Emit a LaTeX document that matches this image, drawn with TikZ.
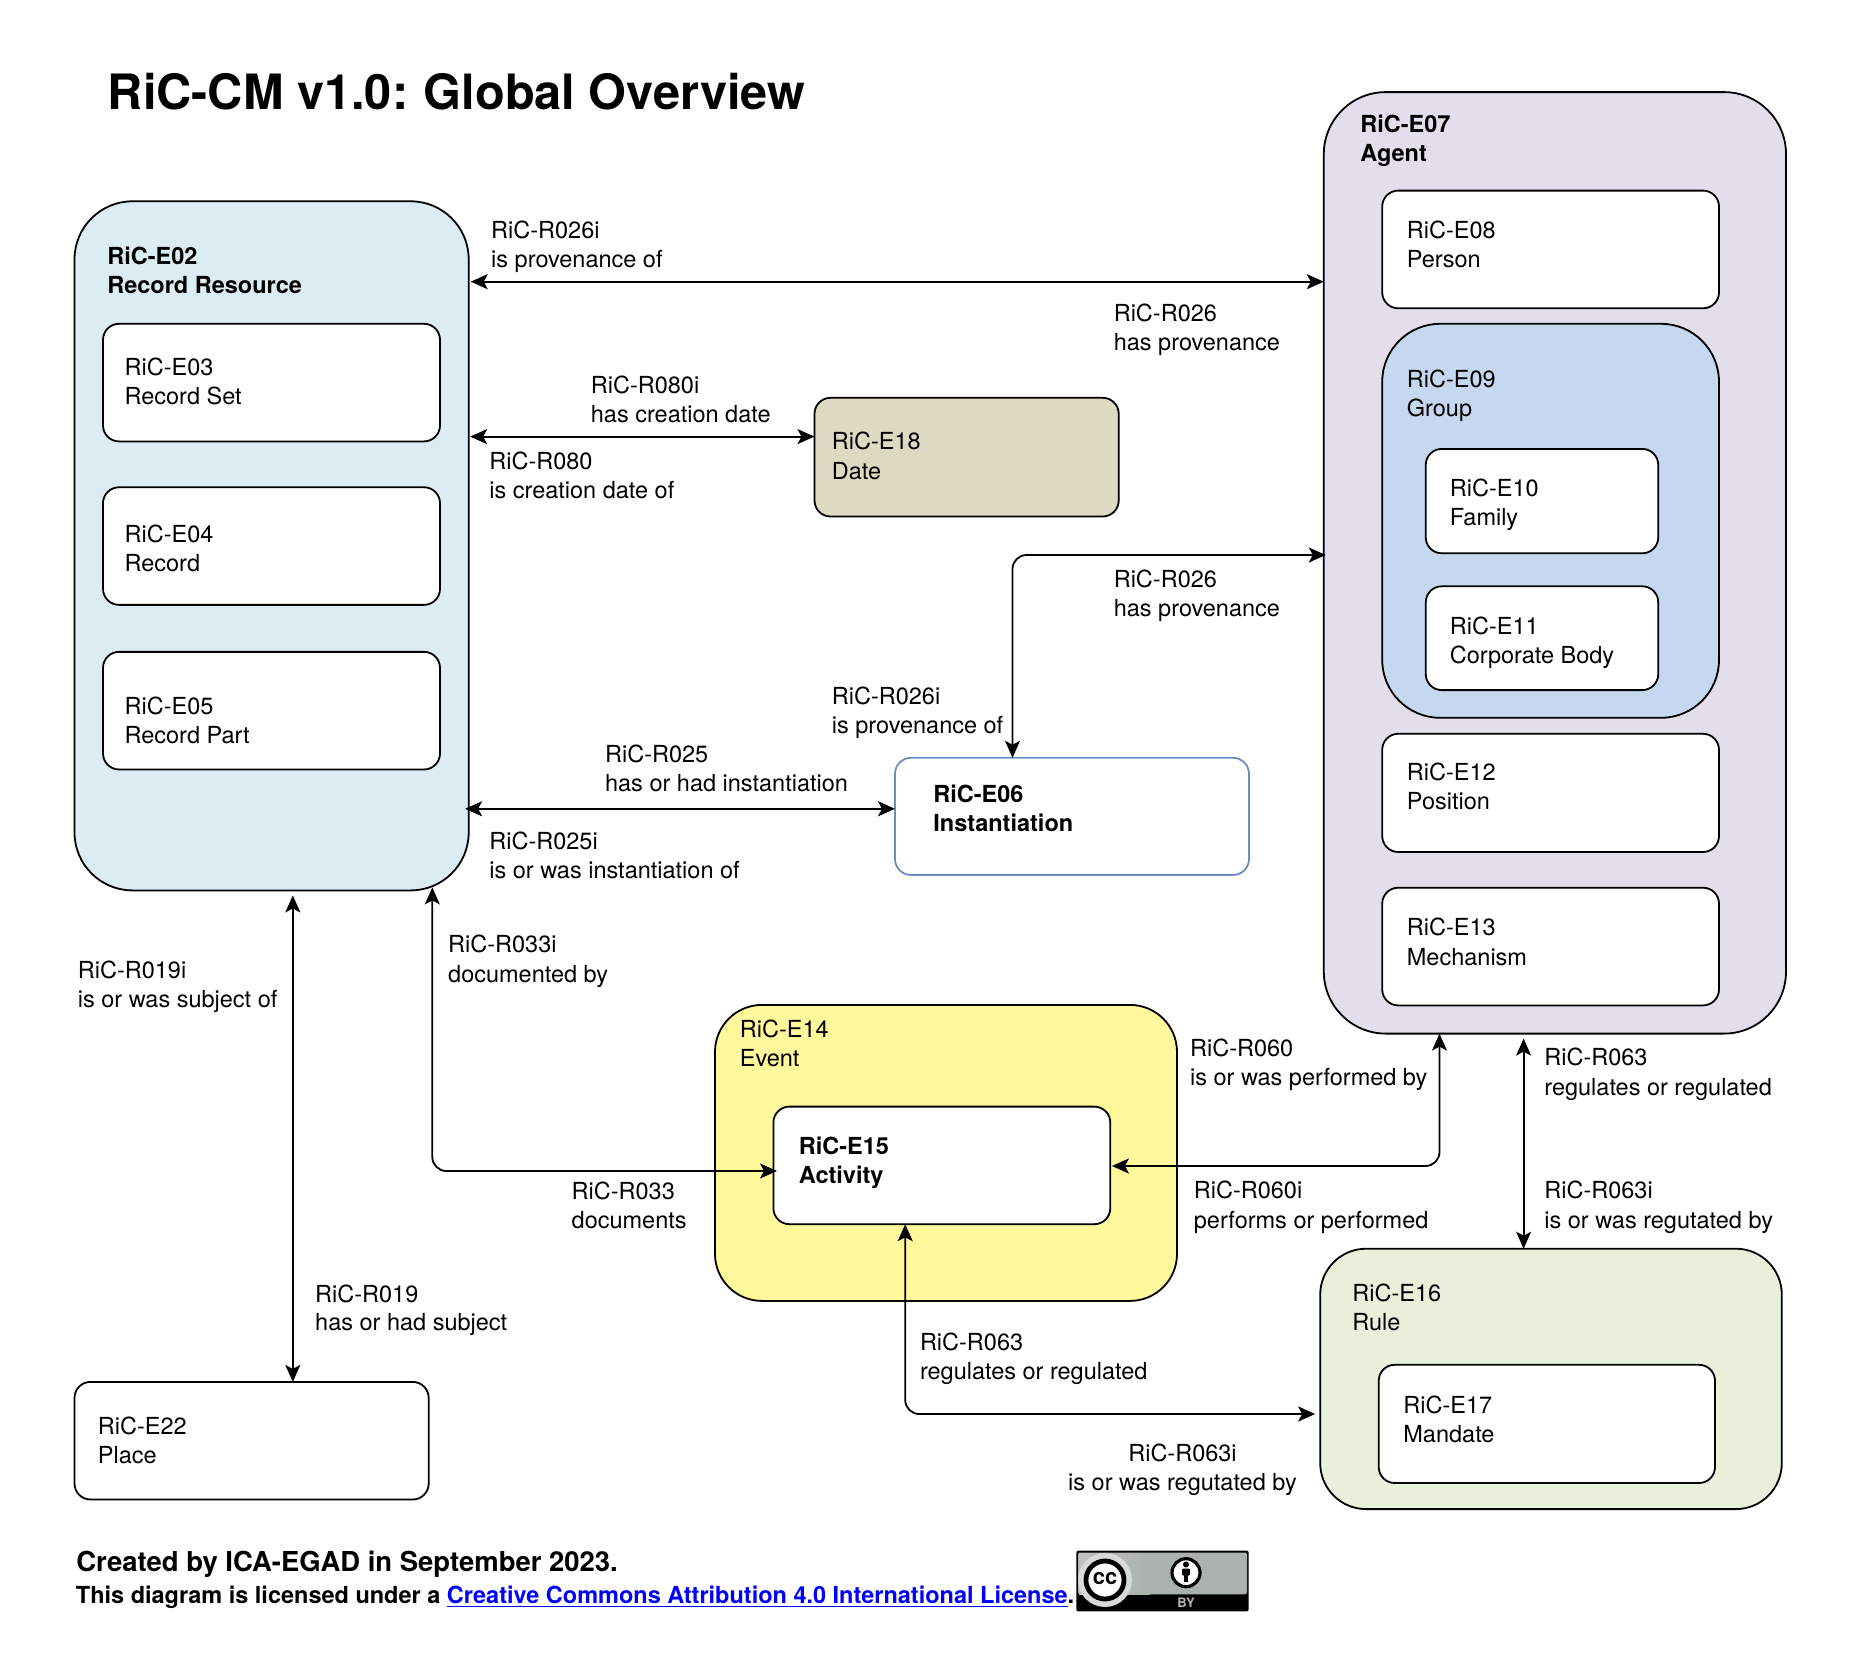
\documentclass[tikz,border=0pt]{standalone}
\usepackage{fontspec}
\setmainfont{TeX Gyre Heros}
\usetikzlibrary{arrows.meta}

\begin{document}
\begin{tikzpicture}[x=0.5pt,y=-0.5pt]
    \tikzset{boxsize/.style 2 args = {minimum width = #1*0.5pt,
        minimum height = #2*0.5pt},
      entity/.style = {draw, line width = 0.9pt, fill = white,
        rounded corners = 8pt, inner sep = 0pt, outer sep = 0pt},
      bigentity/.style = {entity, rounded corners = 29pt},
      caption/.style = {align = left, anchor = west, inner sep = 0pt,
        font = \fontsize{11.75}{14.65}\selectfont},
      boldcaption/.style = {caption, font = \fontsize{11.75}{14.65}\selectfont\bfseries},
      rel/.style = {<->, >={Stealth[length=8.5pt, width=7.5pt, inset=2pt]},
        line width = 0.9pt, rounded corners = 7pt}}

    \useasboundingbox (0,0) rectangle (1870,1670);

    \node[anchor=west, inner sep=0pt, font=\fontsize{24.35}{28}\selectfont\bfseries] (title)
        at (107.5,91.6) {RiC-CM v1.0:\kern-1.2pt{} Global Overview};

    % Draw the record resource.
    \node[bigentity, boxsize={394.2}{689.1}, fill={rgb,255:red,219;green,236;blue,242}] (E02) at (271.6,545.85) {};
    \node[entity, boxsize={337}{117.6}] (E03) at (271.5,382.6) {};
    \node[entity, boxsize={337}{117.6}] (E04) at (271.5,546.05) {};
    \node[entity, boxsize={337}{117.6}] (E05) at (271.5,710.65) {};
    \node[boldcaption] (tE02) at (107,270.2) {RiC-E02\\Record Resource};
    \node[caption] (tE03) at (124.2,381.5) {RiC-E03\\Record Set};
    \node[caption] (tE04) at (124.2,548.2) {RiC-E04\\Record};
    \node[caption] (tE05) at (124.2,720.5) {RiC-E05\\Record Part};

    % Draw the agent.
    \node[bigentity, rounded corners=31pt, boxsize={462.2}{941.5}, fill={rgb,255:red,227;green,222;blue,235}] (E07) at (1554.9,562.85) {};
    \node[entity, boxsize={336.8}{117.7}] (E08) at (1550.6,249.45) {};
    \node[bigentity, boxsize={336.8}{394}, fill={rgb,255:red,198;green,216;blue,239}] (E09) at (1550.6,520.8) {};
    \node[entity, boxsize={232.5}{104.4}] (E10) at (1542,501.1) {};
    \node[entity, boxsize={232.5}{103.8}] (E11) at (1542,638.2) {};
    \node[entity, boxsize={336.8}{118.2}] (E12) at (1550.6,792.9) {};
    \node[entity, boxsize={336.8}{117.7}] (E13) at (1550.6,946.55) {};
    \node[boldcaption] (tE07) at (1360,141) {RiC-E07\\Agent};
    \node[caption] (tE08) at (1406.5,244.7) {RiC-E08\\Person};
    \node[caption] (tE09) at (1406.5,395.6) {RiC-E09\\Group};
    \node[caption] (tE10) at (1449.5,504.8) {RiC-E10\\Family};
    \node[caption] (tE11) at (1449.5,642.7) {RiC-E11\\Corporate Body};
    \node[caption] (tE12) at (1406.5,786.7) {RiC-E12\\Position};
    \node[caption] (tE13) at (1406.5,941.8) {RiC-E13\\Mechanism};

    % Draw the other entities.
    \node[entity, boxsize={304.2}{118.7}, fill={rgb,255:red,221;green,217;blue,195}] (E18) at (966.6,457.15) {};
    \node[entity, boxsize={354}{117.2}, draw={rgb,255:red,108;green,142;blue,191}] (E06) at (1072,816.4) {};
    \node[bigentity, rounded corners=23.5pt, boxsize={462}{296}, fill={rgb,255:red,255;green,249;blue,155}] (E14) at (946,1152.9) {};
    \node[entity, boxsize={336.9}{117.6}] (E15) at (941.85,1165.4) {};
    \node[bigentity, rounded corners=23pt, boxsize={461.6}{260.4}, fill={rgb,255:red,232;green,240;blue,220}] (E16) at (1551,1378.9) {};
    \node[entity, boxsize={336.3}{118.2}] (E17) at (1546.85,1423.9) {};
    \node[entity, boxsize={354.2}{117.6}] (E22) at (251.6,1440.7) {};
    \node[caption] (tE18) at (831.5,455.8) {RiC-E18\\Date};
    \node[boldcaption] (tE06) at (933,808.5) {RiC-E06\\Instantiation};
    \node[caption] (tE14) at (739.5,1043.5) {RiC-E14\\Event};
    \node[boldcaption] (tE15) at (798.5,1163) {RiC-E15\\Activity};
    \node[caption] (tE16) at (1352,1307.6) {RiC-E16\\Rule};
    \node[caption] (tE17) at (1403,1419.4) {RiC-E17\\Mandate};
    \node[caption] (tE22) at (97.5,1440.7) {RiC-E22\\Place};

    % Draw the relations.
    \draw[rel] ([xshift=1pt]E02.east |- 0,281.7) -- (E07.west |- 0,281.7);
    \draw[rel] ([xshift=0.7pt]E02.east |- 0,436.6) -- (E18.west |- 0,436.6);
    \draw[rel] (E06.north -| 1012.5,0) |- ([xshift=1pt]E07.west |- 0,555);
    \draw[rel] ([xshift=-1.8pt]E02.east |- 0,808.8) -- (E06.west |- 0,808.8);
    \draw[rel] ([yshift=-2.5pt]E02.south -| 292.8,0) -- (E22.north -| 292.8,0);
    \draw[rel] ([yshift=1.5pt]E02.south -| 432.3,0) |- ([xshift=1.8pt]E15.west |- 0,1171);
    \draw[rel] ([xshift=0.8pt]E15.east |- 0,1166) -| (E07.south -| 1439.5,0);
    \draw[rel] ([yshift=-2.5pt]E07.south -| 1523.6,0) -- (E16.north -| 1523.6,0);
    \draw[rel] (E15.south -| 905.2,0) |- ([xshift=-2.5pt]E16.west |- 0,1414);

    % Draw the relation labels.
    \node[caption] (R026ia) at (490.8,247.1) {RiC-R026i\\is provenance of};
    \node[caption] (R026a) at (1113.4,329.6) {RiC-R026\\has provenance};
    \node[caption] (R080i) at (590.5,399.5) {RiC-R080i\\has creation date};
    \node[caption] (R080) at (489,475.3) {RiC-R080\\is creation date of};
    \node[caption] (R026b) at (1113.4,595.6) {RiC-R026\\has provenance};
    \node[caption] (R026ib) at (831.5,713) {RiC-R026i\\is provenance of};
    \node[caption] (R025) at (604.7,768.7) {RiC-R025\\has or had instantiation};
    \node[caption] (R025i) at (489,855.5) {RiC-R025i\\is or was instantiation of};
    \node[caption] (R033i) at (447.8,961.2) {RiC-R033i\\documented by};
    \node[caption] (R019i) at (77.5,986.8) {RiC-R019i\\is or was subject of};
    \node[caption, font=\fontsize{11.75}{13.9}\selectfont] (R019) at (314.8,1310.5) {RiC-R019\\has or had subject};
    \node[caption] (R033) at (571.3,1205.4) {RiC-R033\\documents};
    \node[caption] (R060) at (1189.7,1064.5) {RiC-R060\\is or was performed by};
    \node[caption] (R060i) at (1193.5,1207.3) {RiC-R060i\\performs or performed};
    \node[caption] (R063a) at (1544,1074.4) {RiC-R063\\regulates or regulated};
    \node[caption] (R063ia) at (1544,1207.3) {RiC-R063i\\is or was regutated by};
    \node[caption] (R063b) at (919.6,1358.7) {RiC-R063\\regulates or regulated};
    \node[caption, align=center, anchor=center] (R063ib) at (1182.5,1470.1) {RiC-R063i\\is or was regutated by};

    % Draw the footer.
    \node[anchor=west, inner sep=0pt, font=\fontsize{13.73}{16}\selectfont\bfseries] (created)
        at (76,1564.2) {Created by ICA-EGAD in September 2023.};
    \node[anchor=west, inner sep=0pt, font=\fontsize{11.75}{14}\selectfont\bfseries] (licence)
        at (75.5,1597) {This diagram is licensed under a \textcolor{blue}{\underline{Creative Commons Attribution 4.0 International License}}.};

    % Draw the licence badge.
    \fill[rounded corners=1pt, black] (1076.3,1550.7) rectangle (1248.7,1611.3);
    \fill[rounded corners=0.8pt, fill={rgb,255:red,170;green,178;blue,171}] (1078,1552.5) rectangle (1247,1594.3);
    \shade[left color=black!25, right color={rgb,255:red,170;green,178;blue,171}] (1079,1553) rectangle (1150,1594);
    \fill[black!15] (1105,1580) circle [radius=13.5pt];
    \draw[line width=2.4pt, fill=white] (1105,1580) circle [radius=9.5pt];
    \node[inner sep=0pt, font=\fontsize{11}{12}\selectfont\bfseries] (cc) at (1105,1579) {cc};
    \draw[line width=1.6pt, fill=white] (1186,1572.7) circle [radius=7pt];
    \fill (1186,1564.5) circle [radius=1.5pt];
    \fill[rounded corners=0.6pt] (1182,1568.5) rectangle (1190,1575.5);
    \fill (1183.7,1575) rectangle (1188.3,1582);
    \node[inner sep=0pt, text=black!30, font=\fontsize{6.5}{7}\selectfont\bfseries] (by) at (1186,1603) {BY};
\end{tikzpicture}
\end{document}
